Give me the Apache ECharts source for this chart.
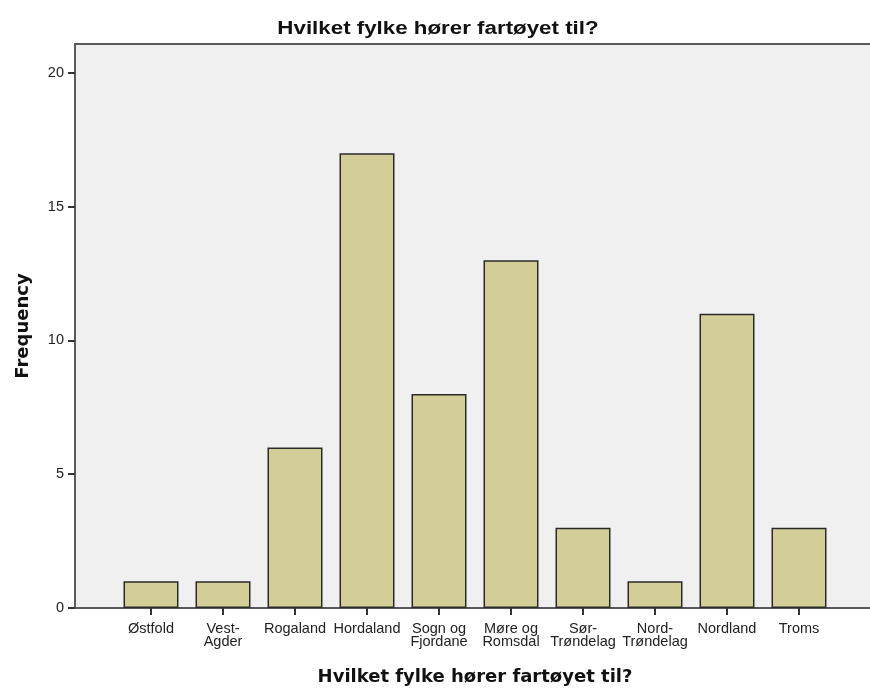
<!DOCTYPE html>
<html>
<head>
<meta charset="utf-8">
<script src="https://cdn.jsdelivr.net/npm/echarts@6/dist/echarts.min.js"></script>
<style>
html,body{margin:0;padding:0;background:#fff;}
#chart{width:870px;height:688px;}
</style>
</head>
<body>
<div id="chart"></div>
<script>
const categories = ["Østfold","Vest-\nAgder","Rogaland","Hordaland","Sogn og\nFjordane","Møre og\nRomsdal","Sør-\nTrøndelag","Nord-\nTrøndelag","Nordland","Troms"];
const frequency = [1,1,6,17,8,13,3,1,11,3];
const yTicks = [0,5,10,15,20];
const titleText = "Hvilket fylke hører fartøyet til?";
const xName = "Hvilket fylke hører fartøyet til?";
const yName = "Frequency";

const chart = echarts.init(document.getElementById('chart'), null, {renderer:'canvas'});
const yMax = 21.08;
chart.setOption({
  animation:false,
  backgroundColor:'#ffffff',
  graphic:[{
    type:'text', x:438, y:29, scaleX:1.24, z:10,
    style:{text:titleText, textAlign:'center', textVerticalAlign:'middle',
      fontFamily:'Liberation Sans', fontWeight:'bold', fontSize:18, fill:'#111'}
  }],
  grid:[
    {left:75, right:-3, top:44, bottom:80, outerBoundsMode:'none', containLabel:false, show:true, backgroundColor:'#f0f0f0', borderColor:'#5a5a5a', borderWidth:2},
    {left:115, right:35, top:44, bottom:80, outerBoundsMode:'none', containLabel:false}
  ],
  xAxis:[
    {gridIndex:0, type:'value', min:0, max:1, show:false},
    {gridIndex:1, type:'category', data:categories,
     axisLine:{show:false},
     axisTick:{show:true, alignWithLabel:true, length:7, lineStyle:{color:'#333', width:2}},
     axisLabel:{interval:0, color:'#222', fontFamily:'Liberation Sans', fontSize:14.5, lineHeight:13, margin:14},
     name:xName, nameLocation:'middle', nameGap:60,
     nameTextStyle:{fontFamily:'DejaVu Sans', fontWeight:'bold', fontSize:18, color:'#111'}
    }
  ],
  yAxis:[
    {gridIndex:0, type:'value', min:0, max:yMax, interval:5,
     axisLine:{show:false},
     axisTick:{show:true, length:7, customValues:yTicks, lineStyle:{color:'#333', width:2}},
     axisLabel:{color:'#222', fontFamily:'Liberation Sans', fontSize:14.5, margin:11, customValues:yTicks},
     splitLine:{show:false},
     name:yName, nameLocation:'middle', nameGap:43, nameRotate:90,
     nameTextStyle:{fontFamily:'DejaVu Sans', fontWeight:'bold', fontSize:18, color:'#111'}
    },
    {gridIndex:1, type:'value', min:0, max:yMax, show:false}
  ],
  series:[{
    type:'bar', xAxisIndex:1, yAxisIndex:1, data:frequency, barWidth:55,
    itemStyle:{color:'#d3ce97', borderColor:'#2a2a2a', borderWidth:1.5}
  }]
});
</script>
</body>
</html>
